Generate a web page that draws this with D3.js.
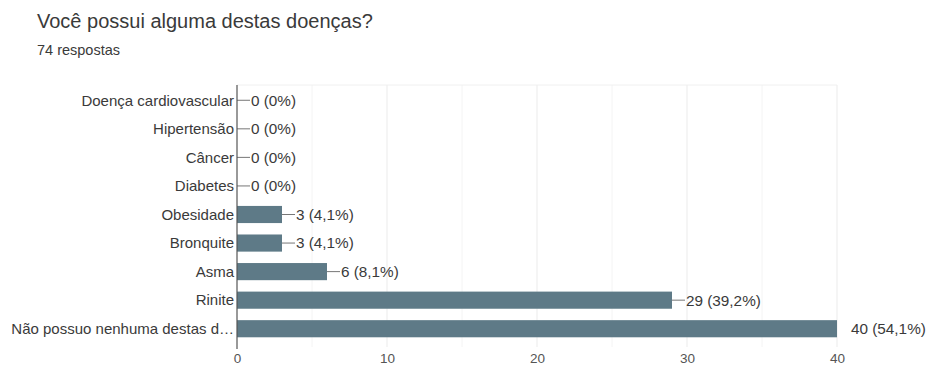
<!DOCTYPE html>
<html lang="en">
<head>
<meta charset="UTF-8">
<title>Você possui alguma destas doenças?</title>
<script src="https://d3js.org/d3.v7.min.js"></script>
<style>
  body { margin: 0; background: #fff; font-family: "Liberation Sans", Arial, sans-serif; }
</style>
</head>
<body>
<div id="chart"></div>
<script>
const categories = ["Doença cardiovascular", "Hipertensão", "Câncer", "Diabetes", "Obesidade", "Bronquite", "Asma", "Rinite", "Não possuo nenhuma destas d…"];
const counts = [0, 0, 0, 0, 3, 3, 6, 29, 40];
const percents = ["0%", "0%", "0%", "0%", "4,1%", "4,1%", "8,1%", "39,2%", "54,1%"];
const xTicks = [0, 10, 20, 30, 40];
const gridTicks = [5, 10, 15, 20, 25, 30, 35, 40];

const W = 927, H = 365;
const margin = { top: 86, right: 90, bottom: 22, left: 237 };
const width = 837 - margin.left;
const height = 343 - margin.top;
const font = "'Liberation Sans', Arial, sans-serif";

const svg = d3.select("#chart").append("svg")
    .attr("width", W).attr("height", H)
    .attr("font-family", font);

svg.append("text")
    .attr("x", 37).attr("y", 28)
    .attr("font-size", 20)
    .attr("fill", "#3a3a3a")
    .text("Você possui alguma destas doenças?");

svg.append("text")
    .attr("x", 37).attr("y", 55)
    .attr("font-size", 14.5)
    .attr("fill", "#3a3a3a")
    .text("74 respostas");

const g = svg.append("g").attr("transform", `translate(${margin.left},${margin.top})`);

const x = d3.scaleLinear().domain([0, 40]).range([0, width]);
const y = d3.scaleBand().domain(categories).range([0, height]).paddingInner(0.4).paddingOuter(0.2);

// gridlines
g.selectAll(".grid")
    .data(gridTicks)
    .enter().append("line")
    .attr("x1", d => x(d)).attr("x2", d => x(d))
    .attr("y1", -1).attr("y2", height + 4)
    .attr("stroke", d => d % 10 === 0 ? "#ebebeb" : "#f4f4f4")
    .attr("stroke-width", 1);

g.append("line")
    .attr("x1", 0).attr("x2", width)
    .attr("y1", -1).attr("y2", -1)
    .attr("stroke", "#f0f0f0");

// bars
g.selectAll(".bar")
    .data(counts)
    .enter().append("rect")
    .attr("x", 0)
    .attr("y", (d, i) => y(categories[i]))
    .attr("width", d => x(d))
    .attr("height", y.bandwidth())
    .attr("fill", "#5e7a87");

// leader lines and value labels
g.selectAll(".leader")
    .data(counts)
    .enter().append("line")
    .attr("x1", d => x(d)).attr("x2", d => x(d) + 13)
    .attr("y1", (d, i) => y(categories[i]) + y.bandwidth() / 2)
    .attr("y2", (d, i) => y(categories[i]) + y.bandwidth() / 2)
    .attr("stroke", d => d === 40 ? "none" : "#777");

g.selectAll(".val")
    .data(counts)
    .enter().append("text")
    .attr("x", d => x(d) + 14)
    .attr("y", (d, i) => y(categories[i]) + y.bandwidth() / 2)
    .attr("dy", "0.35em")
    .attr("font-size", 15.3)
    .attr("fill", "#3a3a3a")
    .text((d, i) => `${d} (${percents[i]})`);

// category labels
g.selectAll(".cat")
    .data(categories)
    .enter().append("text")
    .attr("x", -3)
    .attr("y", d => y(d) + y.bandwidth() / 2)
    .attr("dy", "0.35em")
    .attr("text-anchor", "end")
    .attr("font-size", 15)
    .attr("fill", "#3a3a3a")
    .text(d => d);

// axis line
g.append("line")
    .attr("x1", 0).attr("x2", 0)
    .attr("y1", -1).attr("y2", height + 6)
    .attr("stroke", "#555")
    .attr("stroke-width", 1.2);

// x tick labels
const xAxis = g.append("g")
    .attr("transform", `translate(0,${height})`)
    .call(d3.axisBottom(x).tickValues(xTicks).tickSize(0).tickPadding(10));
xAxis.select(".domain").remove();
xAxis.selectAll("text")
    .attr("font-family", font)
    .attr("font-size", 13.5)
    .attr("fill", "#555");
</script>
</body>
</html>
